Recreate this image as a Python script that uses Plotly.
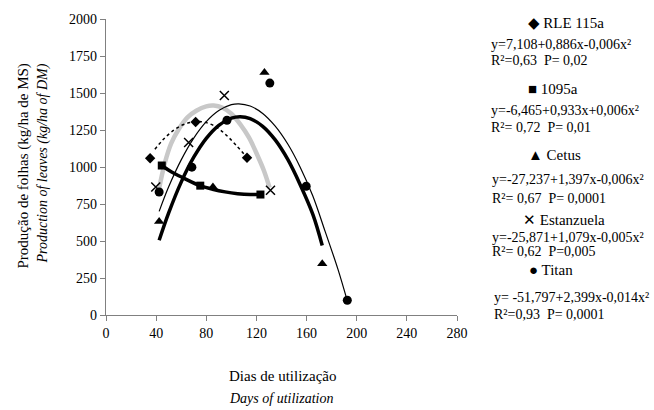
import plotly.graph_objects as go

# ---- observed points ----
rle_x = [35.2, 71.5, 112.5]
rle_y = [1059, 1304, 1063]
b1095_x = [44.5, 75.2, 123.2]
b1095_y = [1010, 874, 814]
cetus_x = [42.4, 85.3, 126.4, 172.5]
cetus_y = [631, 865, 1639, 346]
estan_x = [39.7, 65.9, 94.4, 131.2]
estan_y = [865, 1166, 1483, 843]
titan_x = [42.4, 68.5, 96.5, 130.7, 159.7, 192.5]
titan_y = [831, 999, 1316, 1567, 870, 100]

# ---- trend lines ----
rle_tx = [39, 45, 52, 60, 68, 74, 80, 88, 96, 104, 112]
rle_ty = [1120, 1180, 1235, 1280, 1303, 1308, 1300, 1270, 1215, 1145, 1070]
b1095_tx = [44.5, 52, 62, 75, 85, 95, 105, 115, 123.2]
b1095_ty = [1010, 968, 925, 874, 850, 832, 820, 814, 814]
cetus_tx = [42.4, 50, 60, 70, 80, 90, 100, 107, 115, 125, 135, 145, 155, 165, 172.5]
cetus_ty = [505, 690, 898, 1066, 1194, 1282, 1330, 1340, 1327, 1275, 1183, 1051, 879, 680, 470]
estan_tx = [42, 47, 52, 58, 65, 72, 80, 86, 93, 100, 107, 114, 121, 126, 130.5]
estan_ty = [840, 1030, 1160, 1255, 1335, 1380, 1410, 1415, 1400, 1360, 1290, 1200, 1075, 975, 860]
titan_tx = [42.4, 50, 60, 70, 80, 90, 100, 106, 115, 125, 135, 145, 155, 165, 175, 185, 192.5]
titan_ty = [700, 866, 1048, 1195, 1306, 1381, 1421, 1427, 1412, 1362, 1276, 1155, 997, 804, 560, 310, 95]

x_ticks = [0, 40, 80, 120, 160, 200, 240, 280]
y_ticks = [0, 250, 500, 750, 1000, 1250, 1500, 1750, 2000]

legend_lines = [
    ("\u25c6 RLE 115a", 526, 20, 15),
    ("y=7,108+0,886x-0,006x\u00b2", 489, 42, 14),
    ("R\u00b2=0,63\u00a0\u00a0P= 0,02", 489, 58, 14),
    ("\u25a0 1095a", 526, 87, 15),
    ("y=-6,465+0,933x+0,006x\u00b2", 489, 108, 14),
    ("R\u00b2= 0,72\u00a0\u00a0P= 0,01", 489, 126, 14),
    ("\u25b2 Cetus", 526, 153, 15),
    ("y=-27,237+1,397x-0,006x\u00b2", 490, 178, 14),
    ("R\u00b2= 0,67\u00a0\u00a0P= 0,0001", 490, 197, 14),
    ("\u2715 Estanzuela", 521, 219, 15),
    ("y=-25,871+1,079x-0,005x\u00b2", 490, 237, 14),
    ("R\u00b2= 0,62\u00a0\u00a0P=0,005", 490, 251, 14),
    ("\u25cf Titan", 527, 270, 15),
    ("y= -51,797+2,399x-0,014x\u00b2", 492, 297, 14),
    ("R\u00b2=0,93\u00a0\u00a0P= 0,0001", 492, 314, 14),
]

FONT = "Liberation Serif, Times New Roman, DejaVu Serif, serif"
L, R, T, B = 106, 457, 16, 315
W, H = R - L, B - T

def px(xp):
    return (xp - L) / W

def py(yp):
    return (B - yp) / H

fig = go.Figure()

# trend lines
fig.add_trace(go.Scatter(x=estan_tx, y=estan_ty, mode="lines", line=dict(color="#c8c8c8", width=4.5, shape="spline")))
fig.add_trace(go.Scatter(x=rle_tx, y=rle_ty, mode="lines", line=dict(color="black", width=1.5, dash="dot", shape="spline")))
fig.add_trace(go.Scatter(x=titan_tx, y=titan_ty, mode="lines", line=dict(color="black", width=1.2, shape="spline")))
fig.add_trace(go.Scatter(x=cetus_tx, y=cetus_ty, mode="lines", line=dict(color="black", width=3.5, shape="spline")))
fig.add_trace(go.Scatter(x=b1095_tx, y=b1095_ty, mode="lines", line=dict(color="black", width=3.5, shape="spline")))

# markers
fig.add_trace(go.Scatter(x=rle_x, y=rle_y, mode="markers", marker=dict(symbol="diamond", size=8, color="black")))
fig.add_trace(go.Scatter(x=b1095_x, y=b1095_y, mode="markers", marker=dict(symbol="square", size=8, color="black")))
fig.add_trace(go.Scatter(x=cetus_x, y=cetus_y, mode="markers", marker=dict(symbol="triangle-up", size=9, color="black")))
fig.add_trace(go.Scatter(x=estan_x, y=estan_y, mode="markers", marker=dict(symbol="x-thin", size=9, color="black", line=dict(color="black", width=1.5))))
fig.add_trace(go.Scatter(x=titan_x, y=titan_y, mode="markers", marker=dict(symbol="circle", size=9, color="black")))

annotations = []
for text, xp, yp, fs in legend_lines:
    annotations.append(dict(text=text, x=px(xp), y=py(yp), xref="paper", yref="paper",
                            xanchor="left", yanchor="middle", showarrow=False,
                            font=dict(family=FONT, size=fs, color="black")))

annotations += [
    dict(text="Produção de folhas (kg/ha de MS)", x=px(24), y=py(165), xref="paper", yref="paper",
         textangle=-90, showarrow=False, xanchor="center", yanchor="middle",
         font=dict(family=FONT, size=15, color="black")),
    dict(text="<i>Production of leaves (kg/ha of DM)</i>", x=px(43), y=py(162), xref="paper", yref="paper",
         textangle=-90, showarrow=False, xanchor="center", yanchor="middle",
         font=dict(family=FONT, size=14, color="black")),
    dict(text="Dias de utilização", x=px(282), y=py(377), xref="paper", yref="paper",
         showarrow=False, xanchor="center", yanchor="middle",
         font=dict(family=FONT, size=15, color="black")),
    dict(text="<i>Days of utilization</i>", x=px(281), y=py(399), xref="paper", yref="paper",
         showarrow=False, xanchor="center", yanchor="middle",
         font=dict(family=FONT, size=14, color="black")),
]

axis_common = dict(showline=True, linecolor="#808080", linewidth=1.2, ticks="outside", ticklen=5,
                   tickcolor="#808080", tickwidth=1, showgrid=False, zeroline=False,
                   tickfont=dict(family=FONT, size=14, color="black"))

fig.update_layout(
    width=654, height=410,
    margin=dict(l=L, r=654 - R, t=T, b=410 - B),
    paper_bgcolor="white", plot_bgcolor="white",
    showlegend=False,
    font=dict(family=FONT),
    annotations=annotations,
    xaxis=dict(range=[0, 280], tickvals=x_ticks, **axis_common),
    yaxis=dict(range=[0, 2000], tickvals=y_ticks, **axis_common),
)

fig.write_html("out.html")
